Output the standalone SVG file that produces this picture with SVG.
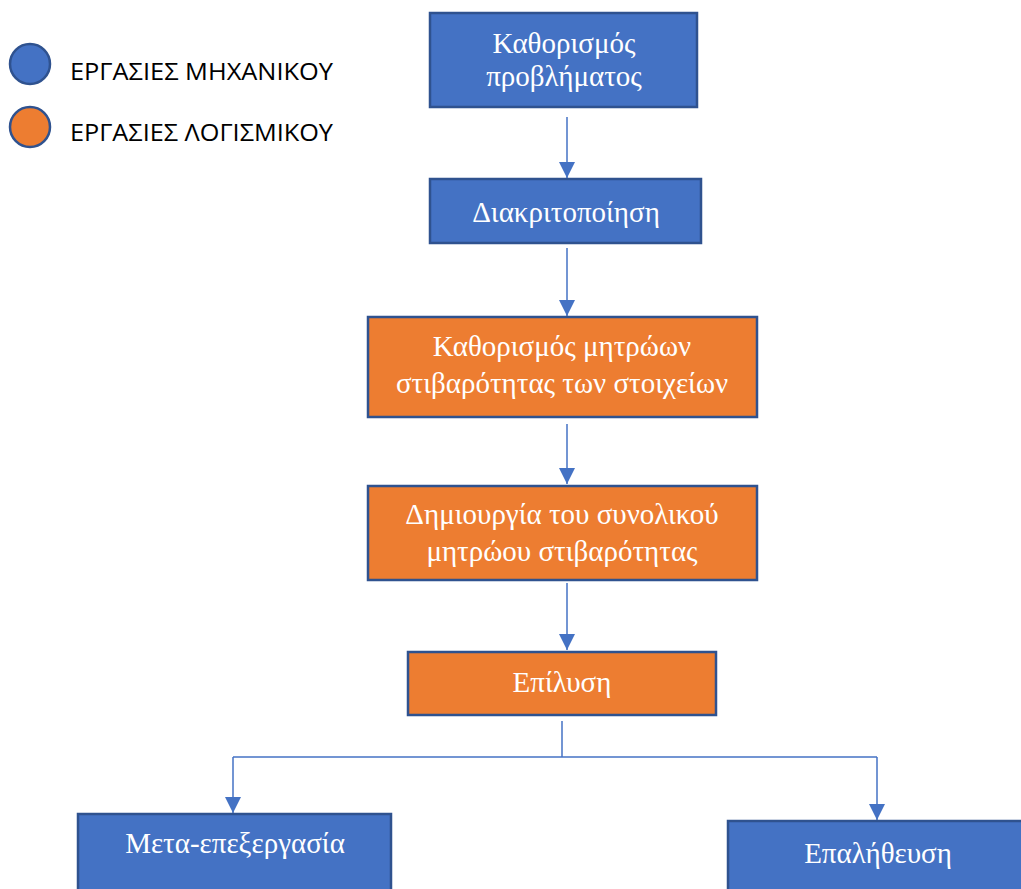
<svg xmlns="http://www.w3.org/2000/svg" width="1021" height="889" viewBox="0 0 1021 889">
<style>
.box{stroke:#2F528F;stroke-width:2.5}
.blue{fill:#4472C4}
.orange{fill:#ED7D31}
.t{font-family:"Liberation Serif","Times New Roman",serif;font-size:29px;fill:#ffffff;text-anchor:middle}
.lg{font-family:"Open Sans","Noto Sans","Liberation Sans",sans-serif;font-size:24px;fill:#000000}
.c{fill:none;stroke:#4472C4;stroke-width:1.5}
</style>
<defs>
<marker id="ah" markerWidth="16" markerHeight="16" viewBox="0 0 16 16" refX="16" refY="8" orient="auto" markerUnits="userSpaceOnUse">
<path d="M0,0 L16,8 L0,16 Z" fill="#4472C4"/>
</marker>
</defs>
<rect width="1021" height="889" fill="#ffffff"/>
<g id="legend">
<circle cx="30" cy="64" r="20" class="blue" stroke="#2F528F" stroke-width="2.5"/>
<circle cx="30" cy="127" r="20" class="orange" stroke="#2F528F" stroke-width="2.5"/>
<text x="70" y="80" class="lg" textLength="263" lengthAdjust="spacingAndGlyphs">ΕΡΓΑΣΙΕΣ ΜΗΧΑΝΙΚΟΥ</text>
<text x="70" y="141" class="lg" textLength="263" lengthAdjust="spacingAndGlyphs">ΕΡΓΑΣΙΕΣ ΛΟΓΙΣΜΙΚΟΥ</text>
</g>
<g id="connectors">
<line x1="567" y1="117" x2="567" y2="178" class="c" marker-end="url(#ah)"/>
<line x1="567" y1="248" x2="567" y2="316" class="c" marker-end="url(#ah)"/>
<line x1="567" y1="424" x2="567" y2="484" class="c" marker-end="url(#ah)"/>
<line x1="567" y1="583" x2="567" y2="650" class="c" marker-end="url(#ah)"/>
<polyline points="562,721 562,757" class="c"/>
<polyline points="233,757 877,757" class="c"/>
<line x1="233" y1="757" x2="233" y2="813" class="c" marker-end="url(#ah)"/>
<line x1="877" y1="757" x2="877" y2="820" class="c" marker-end="url(#ah)"/>
</g>
<g id="n1">
<rect x="430" y="13" width="267" height="94" class="box blue"/>
<text x="564" y="53" class="t">Καθορισμός</text>
<text x="564" y="86" class="t">προβλήματος</text>
</g>
<g id="n2">
<rect x="430" y="179" width="271" height="64" class="box blue"/>
<text x="566" y="222" class="t">Διακριτοποίηση</text>
</g>
<g id="n3">
<rect x="368" y="317" width="389" height="100" class="box orange"/>
<text x="562" y="356" class="t">Καθορισμός μητρώων</text>
<text x="562" y="393" class="t">στιβαρότητας των στοιχείων</text>
</g>
<g id="n4">
<rect x="368" y="486" width="389" height="94" class="box orange"/>
<text x="562" y="524" class="t">Δημιουργία του συνολικού</text>
<text x="562" y="561" class="t">μητρώου στιβαρότητας</text>
</g>
<g id="n5">
<rect x="408" y="652" width="308" height="63" class="box orange"/>
<text x="562" y="692" class="t">Επίλυση</text>
</g>
<g id="n6">
<rect x="78" y="814" width="313" height="90" class="box blue"/>
<text x="235" y="853" class="t">Μετα-επεξεργασία</text>
</g>
<g id="n7">
<rect x="728" y="821" width="310" height="90" class="box blue"/>
<text x="878" y="863" class="t">Επαλήθευση</text>
</g>
</svg>
